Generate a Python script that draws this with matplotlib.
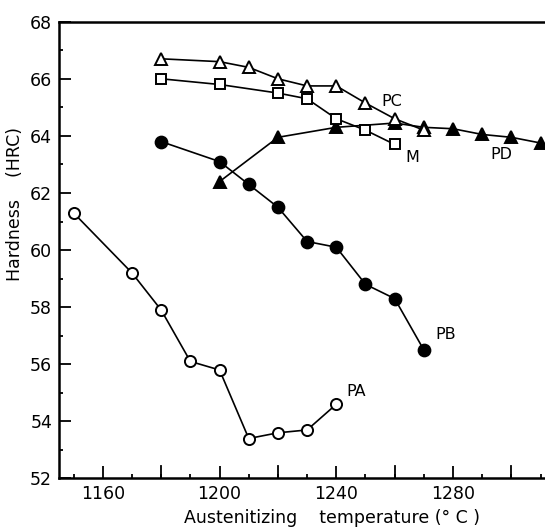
import matplotlib.pyplot as plt
from matplotlib.ticker import MultipleLocator

# hardness (HRC) vs austenitizing temperature
pa_t = [1150, 1170, 1180, 1190, 1200, 1210, 1220, 1230, 1240]
pa_h = [61.3, 59.2, 57.9, 56.1, 55.8, 53.4, 53.6, 53.7, 54.6]

pb_t = [1180, 1200, 1210, 1220, 1230, 1240, 1250, 1260, 1270]
pb_h = [63.8, 63.1, 62.3, 61.5, 60.3, 60.1, 58.8, 58.3, 56.5]

pc_t = [1180, 1200, 1210, 1220, 1230, 1240, 1250, 1260, 1270]
pc_h = [66.7, 66.6, 66.4, 66.0, 65.75, 65.75, 65.15, 64.6, 64.2]

m_t = [1180, 1200, 1220, 1230, 1240, 1250, 1260]
m_h = [66.0, 65.8, 65.5, 65.3, 64.6, 64.2, 63.7]

pd_t = [1200, 1220, 1240, 1260, 1270, 1280, 1290, 1300, 1310]
pd_h = [62.4, 63.95, 64.3, 64.45, 64.3, 64.25, 64.05, 63.95, 63.75]

# curve labels (text, x, y)
names = ['PA', 'PB', 'PC', 'M', 'PD']
name_x = [1246.7, 1277.4, 1259.0, 1266.0, 1296.7]
name_y = [55.05, 57.05, 65.2, 63.25, 63.35]

fig = plt.figure(figsize=(5.45, 5.29), dpi=100)
ax = fig.add_axes([0.1083, 0.0955, 0.8917, 0.8635])

line_kw = dict(color='black', linewidth=1.2, markeredgewidth=1.4, markeredgecolor='black')
ax.plot(pa_t, pa_h, marker='o', markersize=8, markerfacecolor='white', **line_kw)
ax.plot(pb_t, pb_h, marker='o', markersize=8.5, markerfacecolor='black', **line_kw)
ax.plot(pd_t, pd_h, marker='^', markersize=8.5, markerfacecolor='black', **line_kw)
ax.plot(m_t, m_h, marker='s', markersize=7.5, markerfacecolor='white', **line_kw)
ax.plot(pc_t, pc_h, marker='^', markersize=9, markerfacecolor='white', **line_kw)

for n, x, y in zip(names, name_x, name_y):
    ax.text(x, y, n, fontsize=11.5, ha='center', va='center')

ax.set_xlim(1145, 1311.5)
ax.set_ylim(52, 68)
ax.xaxis.set_major_locator(MultipleLocator(40))
ax.xaxis.set_minor_locator(MultipleLocator(10))
ax.yaxis.set_major_locator(MultipleLocator(2))
ax.yaxis.set_minor_locator(MultipleLocator(1))

# extra medium ticks every 20 on x axis
for t in range(1180, 1320, 40):
    ax.plot([t, t], [52, 52.42], color='black', linewidth=1.3, clip_on=False)

ax.tick_params(which='major', direction='in', length=8.5, width=1.3, labelsize=12.5, pad=5)
ax.tick_params(which='minor', direction='in', length=3, width=1.3)

ax.spines['right'].set_visible(False)
for s in ['left', 'bottom', 'top']:
    ax.spines[s].set_linewidth(1.8)

fig.text(0.609, 0.021, 'Austenitizing    temperature (° C )', fontsize=12.5,
         ha='center', va='center')
fig.text(0.028, 0.615, 'Hardness    (HRC)', fontsize=12.5, rotation=90,
         ha='center', va='center')

plt.savefig('out.png', dpi=100)
